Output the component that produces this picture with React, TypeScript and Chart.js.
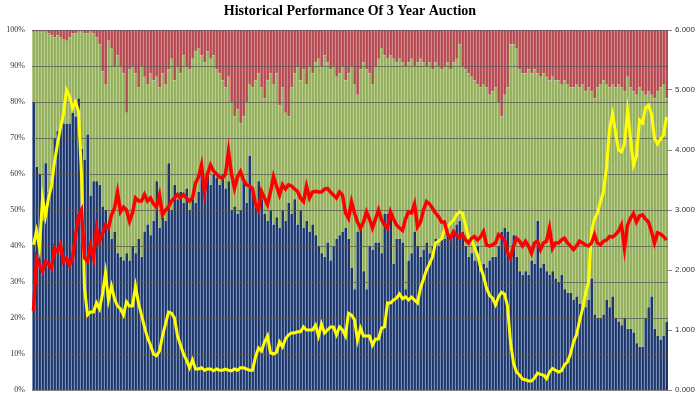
import React, { useEffect, useRef } from "react";
import { Chart, registerables } from "chart.js";

Chart.register(...registerables);

const TITLE = "Historical Performance Of 3 Year Auction";

// Allocation shares (% of auction) per auction, oldest to newest
const indirectPct: number[] = [
  80, 62, 60, 47, 63, 55, 58, 70, 72, 73,
  74, 74, 74, 77, 76, 81, 67, 64, 71, 54,
  58, 58, 57, 51, 50, 45, 42, 44, 38, 37,
  36, 38, 36, 40, 38, 42, 37, 44, 46, 43,
  47, 58, 45, 48, 47, 63, 50, 57, 53, 55,
  52, 56, 50, 53, 52, 55, 63, 58, 60, 57,
  60, 59, 57, 60, 56, 58, 50, 51, 49, 50,
  58, 52, 65, 55, 52, 58, 53, 49, 47, 50,
  46, 48, 45, 50, 47, 52, 49, 53, 46, 50,
  45, 47, 44, 46, 43, 40, 38, 37, 41, 36,
  40, 42, 43, 44, 45, 42, 34, 28, 44, 45,
  33, 28, 40, 39, 41, 41, 38, 49, 49, 48,
  35, 42, 42, 41, 28, 36, 38, 44, 40, 37,
  39, 41, 38, 40, 42, 40, 43, 42, 44, 43,
  44, 46, 47, 44, 40, 37, 38, 36, 40, 33,
  35, 34, 36, 37, 37, 40, 44, 45, 44, 37,
  43, 37, 33, 32, 33, 32, 36, 35, 47, 34,
  35, 33, 32, 33, 31, 30, 32, 28, 27, 27,
  25, 26, 24, 24, 23, 25, 31, 21, 20, 20,
  21, 25, 23, 26, 20, 19, 18, 20, 17, 17,
  16, 13, 12, 12, 20, 23, 26, 17, 15, 14,
  15, 19,
];

const directPct: number[] = [
  19.5, 37.5, 39.5, 52.5, 36.5, 44, 40.5, 28, 26.5, 25,
  23.5, 23, 24, 22, 23, 18.5, 32.5, 35, 28, 45.5,
  41, 40, 39, 37.5, 35, 52, 53, 46, 55, 53,
  52, 39, 53, 50, 50, 42, 53, 43, 39, 45,
  39, 29, 39, 40, 38, 26, 42, 29, 37, 33,
  41, 34, 39, 39, 42, 40, 30, 33, 34, 35,
  33, 30, 31, 26, 28, 29, 30, 25, 29, 24,
  18, 28, 20, 29, 34, 30, 31, 32, 39, 38,
  39, 40, 34, 34, 30, 24, 35, 35, 44, 36,
  44, 38, 46, 42, 48, 52, 52, 56, 50, 53,
  50, 45, 45, 46, 41, 46, 56, 57, 38, 44,
  58, 61, 48, 46, 49, 51, 57, 44, 43, 45,
  57, 49, 50, 50, 62, 55, 54, 46, 51, 55,
  52, 49, 53, 49, 49, 50, 46, 48, 47, 46,
  47, 46, 49, 46, 49, 51, 49, 50, 45, 51,
  50, 50, 46, 46, 47, 40, 32, 37, 40, 59,
  53, 58, 56, 56, 55, 57, 52, 54, 41, 53,
  53, 54, 54, 54, 55, 56, 53, 58, 58, 57,
  59, 59, 60, 61, 60, 59, 52, 60, 64, 65,
  65, 60, 61, 59, 64, 66, 66, 63, 70, 67,
  67, 69, 72, 71, 62, 60, 56, 64, 68, 70,
  70, 62,
];

const dealerPct: number[] = [
  0.5, 0.5, 0.5, 0.5, 0.5, 1, 1.5, 2, 1.5, 2,
  2.5, 3, 2, 1, 1, 0.5, 0.5, 1, 1, 0.5,
  1, 2, 4, 11.5, 15, 3, 5, 10, 7, 10,
  12, 23, 11, 10, 12, 16, 10, 13, 15, 12,
  14, 13, 16, 12, 15, 11, 8, 14, 10, 12,
  7, 10, 11, 8, 6, 5, 7, 9, 6, 8,
  7, 11, 12, 14, 16, 13, 20, 24, 22, 26,
  24, 20, 15, 16, 14, 12, 16, 19, 14, 12,
  15, 12, 21, 16, 23, 24, 16, 12, 10, 14,
  11, 15, 10, 12, 9, 8, 10, 7, 9, 11,
  10, 13, 12, 10, 14, 12, 10, 15, 18, 11,
  9, 11, 12, 15, 10, 8, 5, 7, 8, 7,
  8, 9, 8, 9, 10, 9, 8, 10, 9, 8,
  9, 10, 9, 11, 9, 10, 11, 10, 9, 11,
  9, 8, 4, 10, 11, 12, 13, 14, 15, 16,
  15, 16, 18, 17, 16, 20, 24, 18, 16, 4,
  4, 5, 11, 12, 12, 11, 12, 11, 12, 13,
  12, 13, 14, 13, 14, 14, 15, 14, 15, 16,
  16, 15, 16, 15, 17, 16, 17, 19, 16, 15,
  14, 15, 16, 15, 16, 15, 16, 17, 13, 16,
  17, 18, 16, 17, 18, 17, 18, 19, 17, 16,
  15, 19,
];

// Right axis values
const highYield: number[] = [
  2.42, 2.65, 2.37, 3.2, 2.9, 3.2, 3.4, 3.8, 4.1, 4.37,
  4.6, 5.0, 4.9, 4.7, 4.8, 4.65, 3.6, 1.7, 1.25, 1.3,
  1.3, 1.45, 1.35, 1.6, 1.95, 1.5, 1.73, 1.52, 1.4, 1.35,
  1.25, 1.47, 1.4, 1.4, 1.73, 1.45, 1.25, 1.05, 0.87, 0.75,
  0.6, 0.57, 0.65, 0.9, 1.1, 1.3, 1.28, 1.2, 0.9, 0.75,
  0.6, 0.5, 0.37, 0.5, 0.35, 0.35, 0.37, 0.33, 0.35, 0.35,
  0.32, 0.35, 0.33, 0.33, 0.35, 0.33, 0.32, 0.35, 0.33, 0.37,
  0.37, 0.35, 0.33, 0.33, 0.55, 0.7, 0.65, 0.8, 0.9, 0.62,
  0.6, 0.63, 0.8, 0.72, 0.85, 0.92, 0.95, 0.95, 0.97, 0.97,
  1.05, 1.0, 1.0, 1.0, 1.08, 0.9, 1.1, 0.95, 1.0, 1.05,
  1.05, 0.92, 1.05, 1.0, 0.9, 1.28, 1.25, 1.17, 0.83, 1.03,
  0.9, 0.9, 0.9, 0.75, 0.85, 0.85, 1.03, 1.05, 1.45, 1.45,
  1.5, 1.53, 1.6, 1.52, 1.55, 1.5, 1.55, 1.5, 1.45, 1.7,
  1.85, 2.0, 2.1, 2.22, 2.45, 2.48, 2.52, 2.67, 2.72, 2.78,
  2.83, 2.92, 2.97, 2.95, 2.75, 2.55, 2.5, 2.38, 2.25, 2.05,
  1.9, 1.7, 1.58, 1.53, 1.42, 1.55, 1.63, 1.6, 1.4, 0.8,
  0.45, 0.3, 0.25, 0.18, 0.17, 0.15, 0.15, 0.2, 0.28, 0.26,
  0.25, 0.19, 0.3, 0.36, 0.33, 0.3, 0.32, 0.42, 0.47, 0.6,
  0.8, 0.92, 1.15, 1.35, 1.6, 1.8, 2.65, 2.85, 2.95, 3.15,
  3.3, 3.7, 4.35, 4.6, 4.3, 4.0, 3.97, 4.1, 4.65, 4.2,
  3.75, 3.9, 4.5, 4.45, 4.7, 4.75, 4.6, 4.2, 4.1, 4.18,
  4.25, 4.55,
];

const bidToCover: number[] = [
  1.32, 2.2, 2.08, 1.98, 2.14, 2.1, 2.03, 2.37, 2.3, 2.42,
  2.14, 2.2, 2.08, 2.2, 2.58, 2.9, 3.0, 2.2, 2.15, 2.4,
  2.2, 2.7, 2.48, 2.6, 2.75, 2.7, 2.92, 3.03, 3.3, 2.97,
  3.05, 3.0, 2.81, 2.95, 3.2, 3.15, 3.15, 3.26, 3.15, 3.2,
  3.1, 3.05, 3.25, 2.92, 3.0, 3.05, 3.15, 3.2, 3.26, 3.2,
  3.26, 3.2, 3.15, 3.2, 3.45, 3.55, 3.75, 3.3, 3.6, 3.75,
  3.65, 3.6, 3.55, 3.53, 3.6, 3.98, 3.6, 3.36, 3.55, 3.64,
  3.5, 3.42, 3.4, 3.36, 3.1, 3.0, 3.31, 3.2, 3.09, 3.3,
  3.56, 3.4, 3.25, 3.42, 3.35, 3.42, 3.4, 3.35, 3.31, 3.2,
  3.14, 3.4, 3.2, 3.3, 3.31, 3.3, 3.3, 3.35, 3.36, 3.3,
  3.25, 3.2, 3.3, 3.25, 2.95, 2.86, 3.14, 2.95, 2.8, 2.7,
  2.8, 2.97, 2.85, 2.7, 2.85, 3.0, 2.84, 2.75, 2.7, 2.97,
  2.85, 2.75, 2.7, 2.66, 2.85, 2.97, 2.95, 3.1, 2.72, 2.8,
  3.0, 3.14, 3.1, 3.03, 2.95, 2.89, 2.8, 2.8, 2.6, 2.53,
  2.64, 2.58, 2.53, 2.59, 2.5, 2.45, 2.53, 2.56, 2.5, 2.55,
  2.64, 2.42, 2.4, 2.42, 2.45, 2.59, 2.55, 2.5, 2.3, 2.2,
  2.4, 2.53, 2.48, 2.4, 2.48, 2.4, 2.28, 2.45, 2.48, 2.34,
  2.45, 2.48, 2.7, 2.36, 2.45, 2.45, 2.5, 2.53, 2.45, 2.4,
  2.34, 2.4, 2.48, 2.45, 2.42, 2.4, 2.45, 2.59, 2.45, 2.42,
  2.48, 2.5, 2.56, 2.55, 2.59, 2.65, 2.75, 2.36, 2.75, 2.86,
  2.94, 2.8, 2.9, 2.92, 2.85, 2.8, 2.64, 2.45, 2.62, 2.6,
  2.56, 2.5,
];

const auctions: string[] = indirectPct.map((_, i) => `A${i + 1}`);

const gridOverBars = {
  id: "gridOverBars",
  beforeDatasetDraw(chart: any, args: any) {
    if (args.index !== 3) return;
    const y = chart.scales.y;
    const area = chart.chartArea;
    const ctx = chart.ctx;
    ctx.save();
    ctx.strokeStyle = "rgba(90,90,90,0.75)";
    ctx.lineWidth = 1;
    y.ticks.forEach((t: any) => {
      const py = Math.round(y.getPixelForValue(t.value)) + 0.5;
      ctx.beginPath();
      ctx.moveTo(area.left, py);
      ctx.lineTo(area.right, py);
      ctx.stroke();
    });
    ctx.restore();
  },
};

export default function App() {
  const ref = useRef<HTMLCanvasElement | null>(null);

  useEffect(() => {
    document.body.style.margin = "0";
    const canvas = ref.current;
    if (!canvas) return;
    const barBorder = { left: 1, right: 0, top: 0, bottom: 0 };
    const chart = new Chart(canvas, {
      type: "bar",
      data: {
        labels: auctions,
        datasets: [
          {
            type: "bar",
            label: "Indirect",
            data: indirectPct,
            backgroundColor: "#1d3569",
            borderColor: "#a9c1e0",
            borderWidth: barBorder as any,
            borderSkipped: false,
            yAxisID: "y",
            order: 3,
            categoryPercentage: 1,
            barPercentage: 1,
          },
          {
            type: "bar",
            label: "Direct",
            data: directPct,
            backgroundColor: "#92b05c",
            borderColor: "#cedcaa",
            borderWidth: barBorder as any,
            borderSkipped: false,
            yAxisID: "y",
            order: 3,
            categoryPercentage: 1,
            barPercentage: 1,
          },
          {
            type: "bar",
            label: "Dealer",
            data: dealerPct,
            backgroundColor: "#b24a50",
            borderColor: "#e6a9b0",
            borderWidth: barBorder as any,
            borderSkipped: false,
            yAxisID: "y",
            order: 3,
            categoryPercentage: 1,
            barPercentage: 1,
          },
          {
            type: "line",
            label: "High Yield",
            data: highYield,
            borderColor: "#ffff00",
            borderWidth: 3,
            pointRadius: 0,
            tension: 0,
            yAxisID: "y1",
            order: 1,
          } as any,
          {
            type: "line",
            label: "Bid to Cover",
            data: bidToCover,
            borderColor: "#ff0000",
            borderWidth: 3.5,
            pointRadius: 0,
            tension: 0,
            yAxisID: "y1",
            order: 0,
          } as any,
        ],
      },
      options: {
        responsive: false,
        animation: false,
        events: [],
        layout: { autoPadding: false, padding: { left: 0, right: 0, top: 0, bottom: 4 } },
        plugins: {
          legend: { display: false },
          tooltip: { enabled: false },
          title: {
            display: true,
            text: TITLE,
            color: "#000000",
            font: { family: "'Liberation Serif', 'Times New Roman', serif", size: 14, weight: "bold", lineHeight: 1.2 },
            padding: { top: 3, bottom: 10.2 },
          },
        },
        scales: {
          x: {
            type: "category",
            stacked: true,
            display: false,
            offset: true,
            grid: { display: false },
          },
          y: {
            type: "linear",
            position: "left",
            stacked: true,
            min: 0,
            max: 100,
            border: { display: false },
            grid: { display: false, drawTicks: false },
            ticks: {
              stepSize: 10,
              padding: 7,
              color: "#333333",
              font: { family: "'Liberation Serif', serif", size: 8, lineHeight: 1 },
              callback: (v: any) => `${v}%`,
            },
            afterFit: (s: any) => {
              s.width = 32;
              s.paddingTop = 0;
              s.paddingBottom = 0;
            },
          },
          y1: {
            type: "linear",
            position: "right",
            min: 0,
            max: 6,
            border: { display: false },
            grid: {
              drawOnChartArea: false,
              drawTicks: true,
              tickLength: 4,
              color: "#888888",
            },
            ticks: {
              stepSize: 1,
              padding: 3,
              color: "#333333",
              font: { family: "'Liberation Sans', Arial, sans-serif", size: 8, lineHeight: 1 },
              callback: (v: any) => Number(v).toFixed(3),
            },
            afterFit: (s: any) => {
              s.width = 32;
              s.paddingTop = 0;
              s.paddingBottom = 0;
            },
          },
        },
      },
      plugins: [gridOverBars],
    });
    return () => chart.destroy();
  }, []);

  return (
    <div style={{ width: 700, height: 394, background: "#ffffff" }}>
      <canvas ref={ref} width={700} height={394} style={{ display: "block" }} />
    </div>
  );
}
